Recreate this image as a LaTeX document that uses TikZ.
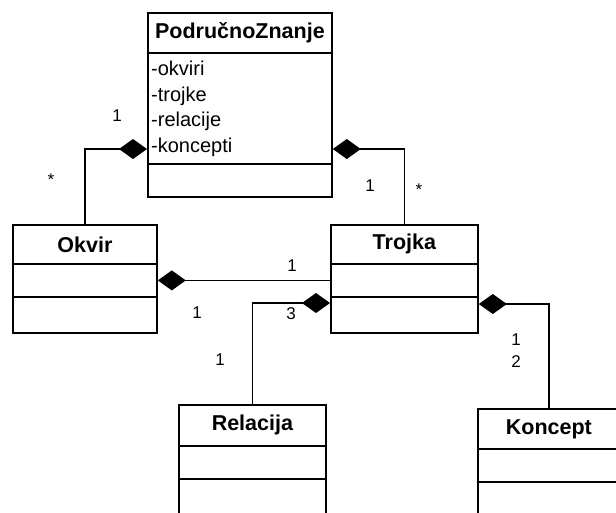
\documentclass[tikz,border=0pt]{standalone}
\usepackage{fontspec}
\setmainfont{Liberation Sans}
\usetikzlibrary{arrows.meta}
\begin{document}
\begin{tikzpicture}[x=1pt,y=-1pt,
  cell/.style={draw, line width=1.8pt, inner sep=0pt, anchor=north west},
  cname/.style={font=\fontsize{21.5}{24}\selectfont\bfseries},
  attrs/.style={font=\fontsize{20}{25.5}\selectfont, align=left, inner sep=0pt, anchor=north west},
  mult/.style={font=\fontsize{17}{19}\selectfont, inner sep=0pt},
  assoc/.style={line width=1.8pt},
  compose/.style={assoc, {Diamond[length=28pt,width=20pt]}-},
]
\useasboundingbox (0,0) rectangle (616,512);
\clip (0,0) rectangle (616,512);

% PodrucnoZnanje
\node[cell, minimum width=184pt, minimum height=40pt] (pzn) at (147,12) {};
\node[cname] at (pzn.center) {PodručnoZnanje};
\node[cell, minimum width=184pt, minimum height=111pt] (pza) at (147,52) {};
\node[cell, minimum width=184pt, minimum height=33pt] (pzo) at (147,163) {};
\node[attrs] (pzt) at (151,61) {-okviri\\-trojke\\-relacije\\-koncepti};

% Okvir
\node[cell, minimum width=144pt, minimum height=39pt] (okn) at (12,224) {};
\node[cname] at (okn.center) {Okvir};
\node[cell, minimum width=144pt, minimum height=33pt] (oka) at (12,263) {};
\node[cell, minimum width=144pt, minimum height=36pt] (oko) at (12,296) {};

% Trojka
\node[cell, minimum width=147pt, minimum height=39pt] (trn) at (330,224) {};
\node[cname] at (trn.center) {Trojka};
\node[cell, minimum width=147pt, minimum height=33pt] (tra) at (330,263) {};
\node[cell, minimum width=147pt, minimum height=36pt] (tro) at (330,296) {};

% Relacija
\node[cell, minimum width=147pt, minimum height=41pt] (ren) at (178,404) {};
\node[cname] at (ren.center) {Relacija};
\node[cell, minimum width=147pt, minimum height=33pt] (rea) at (178,445) {};
\node[cell, minimum width=147pt, minimum height=40pt] (reo) at (178,478) {};

% Koncept
\node[cell, minimum width=142pt, minimum height=40pt] (kon) at (477,408) {};
\node[cname] at (kon.center) {Koncept};
\node[cell, minimum width=142pt, minimum height=33pt] (koa) at (477,448) {};
\node[cell, minimum width=142pt, minimum height=40pt] (koo) at (477,481) {};

% Compositions
\draw[compose] (pza.west |- 0,149) -| (okn.north);
\draw[compose] (pza.east |- 0,149) -| (trn.north);
\draw[compose] (oka.east) -- (tra.west);
\draw[compose] (tro.west |- 0,303) -| (ren.north);
\draw[compose] (tro.east |- 0,304) -| (kon.north);

% Multiplicities
\node[mult] (m1) at (117,116) {1};
\node[mult] (m2) at (51,180) {*};
\node[mult] (m3) at (370,186) {1};
\node[mult] (m4) at (419,190) {*};
\node[mult] (m5) at (292,266) {1};
\node[mult] (m6) at (197,313) {1};
\node[mult] (m7) at (291,314) {3};
\node[mult] (m8) at (220,360) {1};
\node[mult] (m9) at (516,340) {1};
\node[mult] (m10) at (516,362) {2};
\end{tikzpicture}
\end{document}
